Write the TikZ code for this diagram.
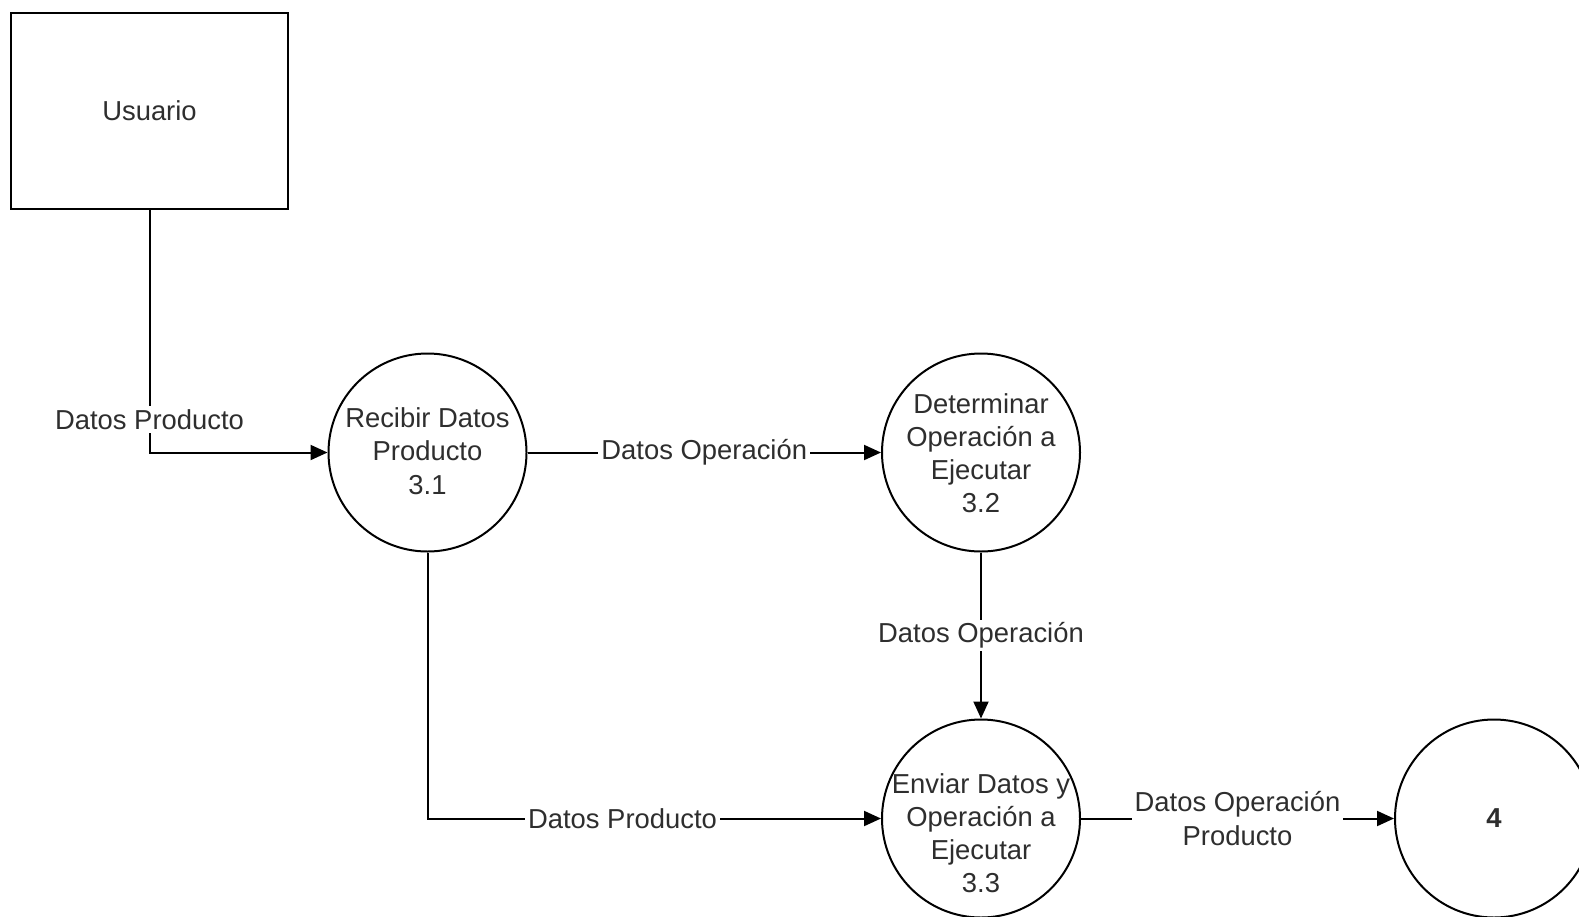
\documentclass[tikz,border=0pt]{standalone}
\usepackage{fontspec}
\setmainfont{Liberation Sans}
\usetikzlibrary{arrows.meta}

\begin{document}
\begin{tikzpicture}[x=0.5pt,y=-0.5pt,
  every node/.style={font=\fontsize{13.7pt}{16.6pt}\selectfont, text=black!82},
  proc/.style={draw, circle, line width=1pt, minimum size=99pt, inner sep=0pt},
  ent/.style={draw, rectangle, line width=1.1pt, minimum width=138.5pt, minimum height=98pt, inner sep=0pt},
  flow/.style={line width=1pt, -{Triangle[length=8.5pt,width=7.5pt]}},
  flowlabel/.style={fill=white, inner sep=1.5pt, align=center},
  ptext/.style={align=center, inner sep=0pt}]
\clip (0,0) rectangle (1579,916);
\fill[white] (0,0) rectangle (1579,916);

% external entity
\node[ent] (usr) at (149.5,111) {Usuario};

% processes
\node[proc] (p31) at (427.5,452.5) {};
\node[ptext] (t31) at (427.5,451) {Recibir Datos\\Producto\\3.1};
\node[proc] (p32) at (981,452.5) {};
\node[ptext] (t32) at (981,453) {Determinar\\Operación a\\Ejecutar\\3.2};
\node[proc] (p33) at (981,818.5) {};
\node[ptext] (t33) at (981,833) {Enviar Datos y\\Operación a\\Ejecutar\\3.3};
\node[proc] (p4) at (1494,818.5) {\textbf{4}};

% data flows
\draw[flow] (usr.south) |- node[flowlabel, pos=0.432] {Datos Producto} (p31.west);
\draw[flow] (p31.east) -- node[flowlabel] {Datos Operación} (p32.west);
\draw[flow] (p32.south) -- node[flowlabel] {Datos Operación} (p33.north);
\draw[flow] (p31.south) |- node[flowlabel, pos=0.715] {Datos Producto} (p33.west);
\draw[flow] (p33.east) -- node[flowlabel] {Datos Operación\\Producto} (p4.west);
\end{tikzpicture}
\end{document}
